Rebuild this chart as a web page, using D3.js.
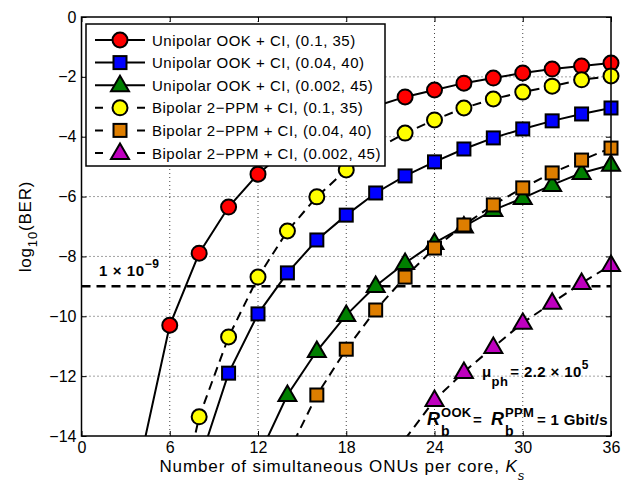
<!DOCTYPE html>
<html>
<head>
<meta charset="utf-8">
<script src="https://cdn.jsdelivr.net/npm/d3@7"></script>
<style>
  body { margin: 0; background: #fff; }
  svg { font-family: "Liberation Sans", Arial, sans-serif; }
</style>
</head>
<body>
<div id="chart"></div>
<script>
// number of simultaneous ONUs per core, per series
const kOok01 = [4, 6, 8, 10, 12, 14, 16, 18, 20, 22, 24, 26, 28, 30, 32, 34, 36];
const berOok01 = [-14.8, -10.3, -7.89, -6.35, -5.25, -4.4, -3.8, -3.35, -2.98, -2.67, -2.44, -2.21, -2.04, -1.87, -1.74, -1.64, -1.54];

const kOok004 = [8, 10, 12, 14, 16, 18, 20, 22, 24, 26, 28, 30, 32, 34, 36];
const berOok004 = [-14.9, -11.9, -9.92, -8.55, -7.45, -6.62, -5.88, -5.31, -4.84, -4.41, -4.04, -3.74, -3.47, -3.24, -3.04];

const kOok0002 = [12, 14, 16, 18, 20, 22, 24, 26, 28, 30, 32, 34, 36];
const berOok0002 = [-14.73, -12.63, -11.16, -9.96, -8.99, -8.22, -7.55, -7.0, -6.45, -6.05, -5.61, -5.21, -4.94];

const kPpm01 = [6, 8, 10, 12, 14, 16, 18, 20, 22, 24, 26, 28, 30, 32, 34, 36];
const berPpm01 = [-17.8, -13.36, -10.69, -8.69, -7.15, -6.01, -5.11, -4.42, -3.88, -3.44, -3.04, -2.74, -2.51, -2.31, -2.10, -1.97];

const kPpm004 = [14, 16, 18, 20, 22, 24, 26, 28, 30, 32, 34, 36];
const berPpm004 = [-14.63, -12.63, -11.1, -9.79, -8.69, -7.72, -6.95, -6.28, -5.71, -5.21, -4.78, -4.38];

const kPpm0002 = [22, 24, 26, 28, 30, 32, 34, 36];
const berPpm0002 = [-14.1, -12.8, -11.86, -11.03, -10.22, -9.55, -8.89, -8.29];

const seriesNames = [
  'Unipolar OOK + CI, (0.1, 35)',
  'Unipolar OOK + CI, (0.04, 40)',
  'Unipolar OOK + CI, (0.002, 45)',
  'Bipolar 2\u2212PPM + CI, (0.1, 35)',
  'Bipolar 2\u2212PPM + CI, (0.04, 40)',
  'Bipolar 2\u2212PPM + CI, (0.002, 45)'
];

const xTicks = [0, 6, 12, 18, 24, 30, 36];
const yTicks = [0, -2, -4, -6, -8, -10, -12, -14];
const threshold = -9;

const width = 636, height = 486;
const margin = {left: 81.5, right: 25, top: 17, bottom: 50};

const series = [
  {k: kOok01, v: berOok01, color: '#ff0000', shape: 'circle', dashed: false},
  {k: kOok004, v: berOok004, color: '#0000ff', shape: 'square', dashed: false},
  {k: kOok0002, v: berOok0002, color: '#007f00', shape: 'triangle', dashed: false},
  {k: kPpm01, v: berPpm01, color: '#ffff00', shape: 'circle', dashed: true},
  {k: kPpm004, v: berPpm004, color: '#de7e00', shape: 'square', dashed: true},
  {k: kPpm0002, v: berPpm0002, color: '#bf00bf', shape: 'triangle', dashed: true}
].map((s, i) => ({...s, name: seriesNames[i], points: s.k.map((k, j) => [k, s.v[j]])}));

const x = d3.scaleLinear().domain([0, 36]).range([margin.left, width - margin.right]);
const y = d3.scaleLinear().domain([-14, 0]).range([height - margin.bottom, margin.top]);

const svg = d3.select('#chart').append('svg')
  .attr('width', width)
  .attr('height', height);

svg.append('defs').append('clipPath').attr('id', 'plot-clip')
  .append('rect')
  .attr('x', x(0)).attr('y', y(0))
  .attr('width', x(36) - x(0)).attr('height', y(-14) - y(0));

// dotted grid
const grid = svg.append('g').attr('stroke', '#444').attr('stroke-width', 1).attr('stroke-dasharray', '1,3');
grid.selectAll('.gx').data(xTicks.slice(1, -1)).join('line')
  .attr('x1', d => x(d)).attr('x2', d => x(d))
  .attr('y1', y(0)).attr('y2', y(-14));
grid.selectAll('.gy').data(yTicks.slice(1, -1)).join('line')
  .attr('x1', x(0)).attr('x2', x(36))
  .attr('y1', d => y(d)).attr('y2', d => y(d));

// axes
const xAxis = svg.append('g')
  .attr('transform', `translate(0,${y(-14)})`)
  .call(d3.axisBottom(x).tickValues(xTicks).tickSize(-5).tickPadding(6));
const xAxisTop = svg.append('g')
  .attr('transform', `translate(0,${y(0)})`)
  .call(d3.axisTop(x).tickValues(xTicks).tickSize(-5).tickFormat(''));
const yAxis = svg.append('g')
  .attr('transform', `translate(${x(0)},0)`)
  .call(d3.axisLeft(y).tickValues(yTicks).tickSize(-5).tickPadding(5)
    .tickFormat(d => d < 0 ? '\u2212' + Math.abs(d) : d));
const yAxisRight = svg.append('g')
  .attr('transform', `translate(${x(36)},0)`)
  .call(d3.axisRight(y).tickValues(yTicks).tickSize(-5).tickFormat(''));

[xAxis, xAxisTop, yAxis, yAxisRight].forEach(a => {
  a.select('.domain').remove();
  a.selectAll('.tick line').attr('stroke', '#000').attr('stroke-width', 1);
  a.selectAll('text').attr('font-size', 16).attr('fill', '#000')
    .attr('font-family', '"Liberation Sans", Arial, sans-serif');
});

// threshold line at 1e-9
svg.append('line')
  .attr('x1', x(0)).attr('x2', x(36))
  .attr('y1', y(threshold)).attr('y2', y(threshold))
  .attr('stroke', '#000').attr('stroke-width', 2.5).attr('stroke-dasharray', '9,6');

const line = d3.line().x(d => x(d[0])).y(d => y(d[1]));

function drawMarker(sel, shape, color) {
  if (shape === 'circle') {
    sel.append('circle').attr('r', 7.5);
  } else if (shape === 'square') {
    sel.append('rect').attr('x', -6.5).attr('y', -6.5).attr('width', 13).attr('height', 13);
  } else {
    sel.append('path').attr('d', 'M0,-9.5L9,6L-9,6Z');
  }
  sel.selectAll('*').attr('fill', color).attr('stroke', '#000').attr('stroke-width', 2);
}

series.forEach(s => {
  svg.append('path')
    .datum(s.points)
    .attr('clip-path', 'url(#plot-clip)')
    .attr('fill', 'none')
    .attr('stroke', '#000')
    .attr('stroke-width', 2)
    .attr('stroke-dasharray', s.dashed ? '9,6' : null)
    .attr('d', line);
  const marks = svg.append('g').selectAll('g')
    .data(s.points.filter(d => d[1] >= -14))
    .join('g')
    .attr('transform', d => `translate(${x(d[0])},${y(d[1])})`);
  drawMarker(marks, s.shape, s.color);
});

// plot box
svg.append('rect')
  .attr('x', x(0)).attr('y', y(0))
  .attr('width', x(36) - x(0)).attr('height', y(-14) - y(0))
  .attr('fill', 'none').attr('stroke', '#000').attr('stroke-width', 1.5);

// legend
const legend = svg.append('g').attr('transform', 'translate(86,24)');
legend.append('rect')
  .attr('width', 299).attr('height', 142)
  .attr('fill', '#fff').attr('stroke', '#000').attr('stroke-width', 1.5);
const rows = legend.selectAll('.row').data(series).join('g')
  .attr('transform', (d, i) => `translate(0,${16 + i * 22.6})`);
rows.append('line')
  .attr('x1', 9).attr('x2', 59)
  .attr('stroke', '#000').attr('stroke-width', 2)
  .attr('stroke-dasharray', d => d.dashed ? '8,34,8' : null);
rows.each(function(d) {
  const g = d3.select(this).append('g').attr('transform', 'translate(34,0)');
  drawMarker(g, d.shape, d.color);
});
rows.append('text')
  .attr('x', 66).attr('y', 5.5)
  .attr('font-size', 15).attr('letter-spacing', 0.5)
  .text(d => d.name);

// annotations
const thrLabel = svg.append('text')
  .attr('x', 99).attr('y', 276)
  .attr('font-size', 15).attr('font-weight', 'bold').attr('letter-spacing', 0.6);
thrLabel.append('tspan').text('1 \u00d7 10');
thrLabel.append('tspan').attr('dy', -8).attr('font-size', 12).text('\u22129');

const muLabel = svg.append('text')
  .attr('x', 482).attr('y', 377)
  .attr('font-size', 15).attr('font-weight', 'bold').attr('letter-spacing', 0.4);
muLabel.append('tspan').text('\u03bc');
muLabel.append('tspan').attr('dy', 9).attr('font-size', 13).text('ph');
muLabel.append('tspan').attr('dy', -9).attr('dx', 2).text('= 2.2 \u00d7 10');
muLabel.append('tspan').attr('dy', -8).attr('font-size', 12).text('5');

// R_b^OOK = R_b^PPM = 1 Gbit/s, pieces stacked by hand
const rY = 425;
const rGroup = svg.append('g').attr('font-weight', 'bold');
const rParts = [
  {t: 'R', x: 427, dy: 0, size: 18, italic: true},
  {t: 'b', x: 441, dy: 11, size: 14},
  {t: 'OOK', x: 441, dy: -8, size: 13},
  {t: '=', x: 473, dy: 0, size: 15},
  {t: 'R', x: 491, dy: 0, size: 18, italic: true},
  {t: 'b', x: 505, dy: 11, size: 14},
  {t: 'PPM', x: 505, dy: -8, size: 13},
  {t: '= 1 Gbit/s', x: 537, dy: 0, size: 15}
];
rGroup.selectAll('text').data(rParts).join('text')
  .attr('x', d => d.x).attr('y', d => rY + d.dy)
  .attr('font-size', d => d.size)
  .attr('font-style', d => d.italic ? 'italic' : null)
  .attr('letter-spacing', 0.3)
  .text(d => d.t);

// axis labels
const xLabel = svg.append('text')
  .attr('x', (x(0) + x(36)) / 2 - 4).attr('y', 472)
  .attr('text-anchor', 'middle').attr('font-size', 17).attr('letter-spacing', 0.9);
xLabel.append('tspan').text('Number of simultaneous ONUs per core, ');
xLabel.append('tspan').attr('font-style', 'italic').text('K');
xLabel.append('tspan').attr('dy', 8).attr('font-size', 13).attr('font-style', 'italic').text('s');

const yLabel = svg.append('text')
  .attr('transform', `translate(31,${(y(0) + y(-14)) / 2}) rotate(-90)`)
  .attr('text-anchor', 'middle').attr('font-size', 17).attr('letter-spacing', 0.8);
yLabel.append('tspan').text('log');
yLabel.append('tspan').attr('dy', 6).attr('font-size', 13).text('10');
yLabel.append('tspan').attr('dy', -6).text('(BER)');
</script>
</body>
</html>
